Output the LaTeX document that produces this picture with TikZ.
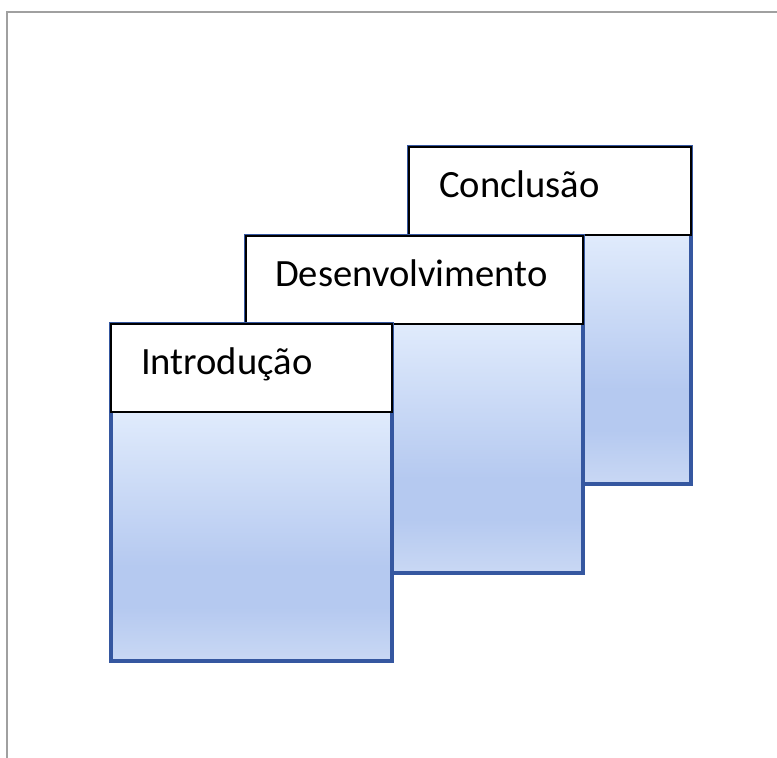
\documentclass[tikz,border=0pt]{standalone}
\usepackage{fontspec}
\setmainfont{Carlito}
\definecolor{cardtop}{HTML}{E9F1FE}
\definecolor{cardmid}{HTML}{E0EBFC}
\definecolor{carddark}{HTML}{B5C9F0}
\definecolor{cardbot}{HTML}{C9D8F4}
\definecolor{cardline}{HTML}{3557A0}
\definecolor{framegray}{HTML}{A0A0A0}
\pgfdeclareverticalshading{cardshade}{100bp}{color(0bp)=(cardbot); color(25bp)=(cardbot); color(33bp)=(carddark); color(39bp)=(carddark); color(62bp)=(cardmid); color(75bp)=(cardtop); color(100bp)=(cardtop)}
\tikzset{
  cardbody/.style={rectangle, anchor=north west, inner sep=0pt, outer sep=0pt,
    draw=cardline, line width=3.5pt, shading=cardshade, minimum height=337pt},
  cardhead/.style={rectangle, anchor=north west, inner sep=0pt, outer sep=0pt,
    draw=black, line width=1.8pt, fill=white, minimum height=88pt},
  cardtext/.style={anchor=base west, inner sep=0pt, font=\fontsize{38.6}{42}\selectfont, text=black}
}
\begin{document}
\begin{tikzpicture}[x=1pt,y=-1pt]
\useasboundingbox (0,0) rectangle (777,758);
\draw[framegray, line width=1.8pt] (7,758) -- (7,12) -- (777,12);
% card 3
\node[cardbody, minimum width=282pt] (b3) at (409,147) {};
\node[cardhead, minimum width=282pt] (h3) at (409,147) {};
\node[cardtext] (t3) at (439,197) {Conclusão};
% card 2
\node[cardbody, minimum width=337pt] (b2) at (246,236) {};
\node[cardhead, minimum width=337pt] (h2) at (246,236) {};
\node[cardtext] (t2) at (275,286) {Desenvolvimento};
% card 1
\node[cardbody, minimum width=281pt] (b1) at (111,324) {};
\node[cardhead, minimum width=281pt] (h1) at (111,324) {};
\node[cardtext] (t1) at (141,374) {Introdução};
\end{tikzpicture}
\end{document}
